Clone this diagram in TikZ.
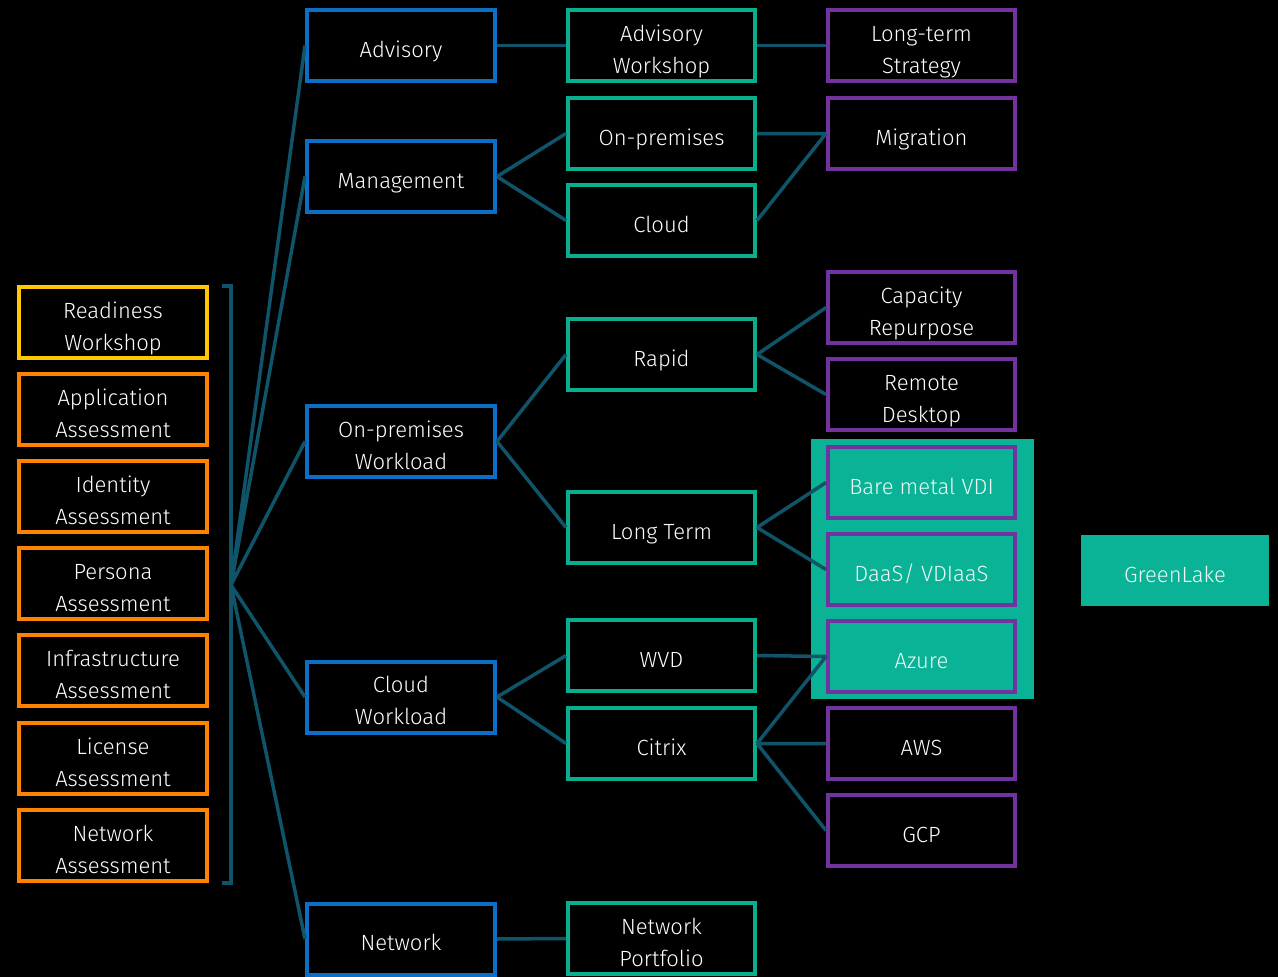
\documentclass[tikz,border=0pt]{standalone}
\usepackage{fontspec}
\setmainfont{Fira Sans}[UprightFont=* Light]
\definecolor{bg}{HTML}{000000}
\definecolor{conn}{HTML}{0F5468}
\definecolor{blueb}{HTML}{0B6FC6}
\definecolor{tealb}{HTML}{08AE8E}
\definecolor{purpb}{HTML}{7232A0}
\definecolor{orangeb}{HTML}{FF8200}
\definecolor{yellowb}{HTML}{FFC800}
\definecolor{hl}{HTML}{0BB396}
\newcommand\tx[1]{\raisebox{-5.5pt}[\height][\depth]{\begin{tabular}{@{}c@{}}#1\end{tabular}}}
\tikzset{
  box/.style={draw, line width=4pt, minimum width=188pt, minimum height=71pt, inner sep=0pt,
    text=white, font=\fontsize{22}{32}\selectfont},
  lbox/.style={box, draw=orangeb},
  ybox/.style={box, draw=yellowb},
  bbox/.style={box, draw=blueb},
  tbox/.style={box, draw=tealb, minimum width=187pt},
  pbox/.style={box, draw=purpb, minimum width=187pt},
  pfbox/.style={pbox, fill=hl, text=white!92!hl},
  link/.style={draw=conn, line width=3.5pt},
}
\begin{document}
\begin{tikzpicture}[x=1pt,y=-1pt]
\fill[bg] (0,0) rectangle (1278,977);
\useasboundingbox (0,0) rectangle (1278,977);
% highlight
\fill[hl] (811,439) rectangle (1034,699);
\node[fill=hl, minimum width=188pt, minimum height=71pt, inner sep=0pt, text=white!92!hl,
  font=\fontsize{22}{32}\selectfont] (gl) at (1175,570.5) {\tx{GreenLake}};
% left column
\node[ybox] (rw) at (113,322.5) {\tx{Readiness\\Workshop}};
\node[lbox] (aa) at (113,409.5) {\tx{Application\\Assessment}};
\node[lbox] (ia) at (113,496.5) {\tx{Identity\\Assessment}};
\node[lbox] (pa) at (113,583.5) {\tx{Persona\\Assessment}};
\node[lbox] (infa) at (113,670.5) {\tx{Infrastructure\\Assessment}};
\node[lbox] (la) at (113,758.5) {\tx{License\\Assessment}};
\node[lbox] (na) at (113,845.5) {\tx{Network\\Assessment}};
% bracket
\coordinate (hub) at (231,585);
\coordinate (bt) at (222,286);
\coordinate (bb) at (222,883);
\draw[conn, line width=4pt] (bt) -- (231,286) -- (231,883) -- (bb);
% blue
\node[bbox] (adv) at (401,45.5) {\tx{Advisory}};
\node[bbox] (mgmt) at (401,176.5) {\tx{Management}};
\node[bbox] (opw) at (401,441.5) {\tx{On-premises\\Workload}};
\node[bbox] (cw) at (401,697) {\tx{Cloud\\Workload}};
\node[bbox] (net) at (401,939) {\tx{Network}};
% teal
\node[tbox] (aw) at (661.5,45.5) {\tx{Advisory\\Workshop}};
\node[tbox] (onp) at (661.5,133.5) {\tx{On-premises}};
\node[tbox] (cld) at (661.5,220.5) {\tx{Cloud}};
\node[tbox] (rap) at (661.5,354.5) {\tx{Rapid}};
\node[tbox] (lt) at (661.5,527.5) {\tx{Long Term}};
\node[tbox] (wvd) at (661.5,655.5) {\tx{WVD}};
\node[tbox] (ctx) at (661.5,743.5) {\tx{Citrix}};
\node[tbox] (np) at (661.5,938.5) {\tx{Network\\Portfolio}};
% purple
\node[pbox] (lts) at (921.5,45.5) {\tx{Long-term\\Strategy}};
\node[pbox] (mig) at (921.5,133.5) {\tx{Migration}};
\node[pbox] (cr) at (921.5,307.5) {\tx{Capacity\\Repurpose}};
\node[pbox] (rd) at (921.5,394.5) {\tx{Remote\\Desktop}};
\node[pfbox] (bmv) at (921.5,482.5) {\tx{Bare metal VDI}};
\node[pfbox] (daas) at (921.5,569.5) {\tx{DaaS/ VDIaaS}};
\node[pfbox] (az) at (921.5,656.5) {\tx{Azure}};
\node[pbox] (aws) at (921.5,743.5) {\tx{AWS}};
\node[pbox] (gcp) at (921.5,830.5) {\tx{GCP}};
% connectors
\path[link] (hub) -- (adv.west) (hub) -- (mgmt.west) (hub) -- (opw.west) (hub) -- (cw.west) (hub) -- (net.west);
\path[link] (adv.east) -- (aw.west) (aw.east) -- (lts.west);
\path[link] (mgmt.east) -- (onp.west) (mgmt.east) -- (cld.west);
\path[link] (onp.east) -- (mig.west) (cld.east) -- (mig.west);
\path[link] (opw.east) -- (rap.west) (opw.east) -- (lt.west);
\path[link] (rap.east) -- (cr.west) (rap.east) -- (rd.west);
\path[link] (lt.east) -- (bmv.west) (lt.east) -- (daas.west);
\path[link] (cw.east) -- (wvd.west) (cw.east) -- (ctx.west);
\path[link] (wvd.east) -- (az.west) (ctx.east) -- (az.west) (ctx.east) -- (aws.west) (ctx.east) -- (gcp.west);
\path[link] (net.east) -- (np.west);
\end{tikzpicture}
\end{document}
